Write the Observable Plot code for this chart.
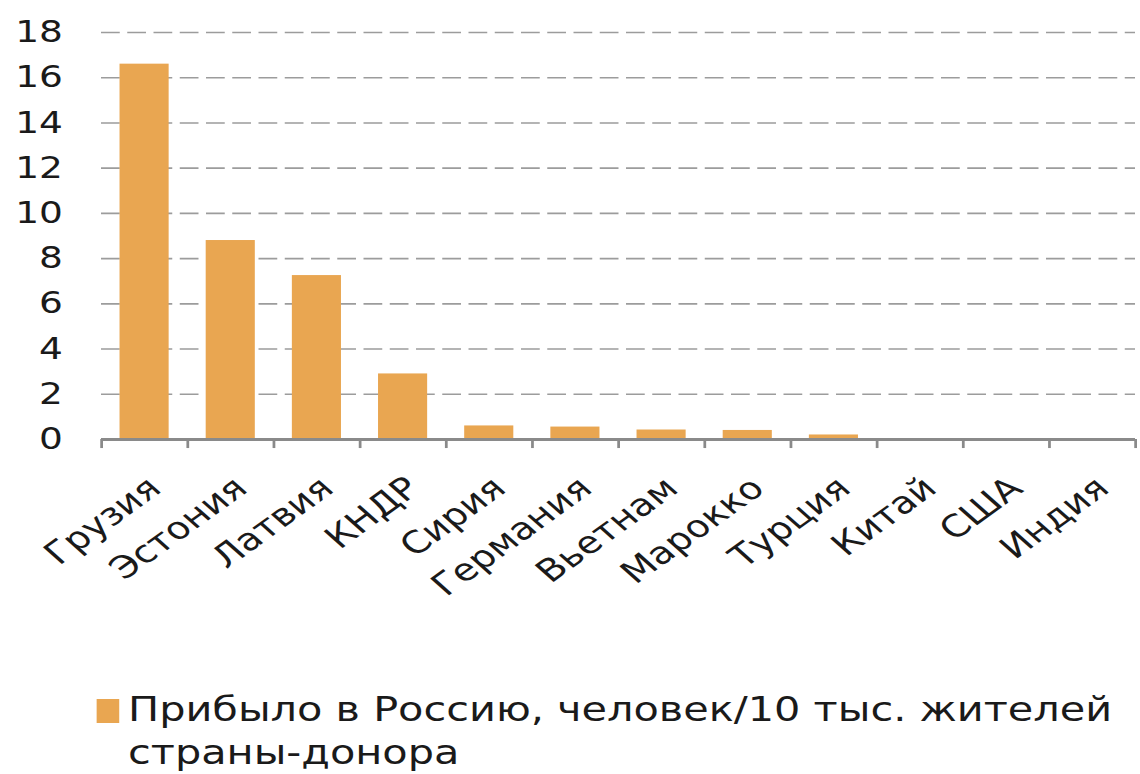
<!DOCTYPE html>
<html>
<head>
<meta charset="utf-8">
<script src="https://cdn.jsdelivr.net/npm/d3@7"></script>
<script src="https://cdn.jsdelivr.net/npm/@observablehq/plot@0.6"></script>
<style>
  html, body { margin: 0; padding: 0; background: #fff; overflow: hidden; }
  #chart { width: 1140px; height: 680px; }
  .legend { font-family: "DejaVu Sans", Verdana, sans-serif; font-size: 33px; line-height: 43px; color: #1a1a1a;
            padding-left: 77px; margin-top: 8px; transform: scaleX(1.255); transform-origin: 0 0; white-space: nowrap; }
  .legend .sw { display: inline-block; width: 18px; height: 24px; background: #E9A651; margin-right: 7px; vertical-align: -2px; }
  .legend .l2 { padding-left: 25px; }
</style>
</head>
<body>
<div id="chart"></div>
<div class="legend">
  <div><span class="sw"></span><span id="lg1"></span></div>
  <div class="l2" id="lg2"></div>
</div>
<script>
const countries = ["Грузия", "Эстония", "Латвия", "КНДР", "Сирия", "Германия", "Вьетнам", "Марокко", "Турция", "Китай", "США", "Индия"];
const values = [16.6, 8.8, 7.25, 2.9, 0.6, 0.55, 0.42, 0.4, 0.2, 0.04, 0.02, 0.01];
const yTicks = [0, 2, 4, 6, 8, 10, 12, 14, 16, 18];
const legendLine1 = "Прибыло в Россию, человек/10 тыс. жителей";
const legendLine2 = "страны-донора";

document.getElementById("lg1").textContent = legendLine1;
document.getElementById("lg2").textContent = legendLine2;

const data = countries.map((c, i) => ({country: c, value: values[i]}));

// The reference image is horizontally stretched; draw at a narrower width and stretch the SVG.
const S = 1.25;
const W = 1140, H = 680;
const Wi = W / S;
const ML = 101 / S, MR = 5 / S, MT = 32, MB = 241;
const step = (Wi - ML - MR) / countries.length;
const barColor = "#E9A651";
const axisColor = "#8a8a8a";
const textColor = "#1a1a1a";

const chart = Plot.plot({
  width: Wi,
  height: H,
  marginLeft: ML,
  marginRight: MR,
  marginTop: MT,
  marginBottom: MB,
  style: {fontFamily: "DejaVu Sans, Verdana, sans-serif", fontSize: "30px", color: textColor, background: "#fff"},
  x: {domain: countries, paddingInner: 0.43, paddingOuter: 0.215, round: false, axis: null},
  y: {domain: [0, 18], axis: null},
  marks: [
    Plot.ruleY(yTicks.filter(d => d > 0), {stroke: "#9c9c9c", strokeWidth: 1.6, strokeDasharray: "15,6"}),
    Plot.barY(data, {x: "country", y: "value", fill: barColor}),
    Plot.ruleY([0], {stroke: axisColor, strokeWidth: 3}),
    Plot.ruleX(countries, {x: d => d, y1: 0, y2: -0.4, dx: -step / 2, stroke: axisColor, strokeWidth: 2.2}),
    Plot.ruleX([countries[countries.length - 1]], {x: d => d, y1: 0, y2: -0.4, dx: step / 2, stroke: axisColor, strokeWidth: 2.2}),
    Plot.axisY({ticks: yTicks, tickSize: 0, tickPadding: 31, fontSize: 30, label: null, tickFormat: d => String(d),
                stroke: textColor, strokeWidth: 0.6}),
    Plot.text(countries, {x: d => d, y: 0, text: d => d, rotate: -42, textAnchor: "end", lineAnchor: "top",
                          dx: 0, dy: 35, fontSize: 31, fill: textColor})
  ]
});
chart.setAttribute("preserveAspectRatio", "none");
chart.style.width = W + "px";
chart.style.height = H + "px";
chart.style.maxWidth = "none";
document.getElementById("chart").append(chart);
</script>
</body>
</html>
